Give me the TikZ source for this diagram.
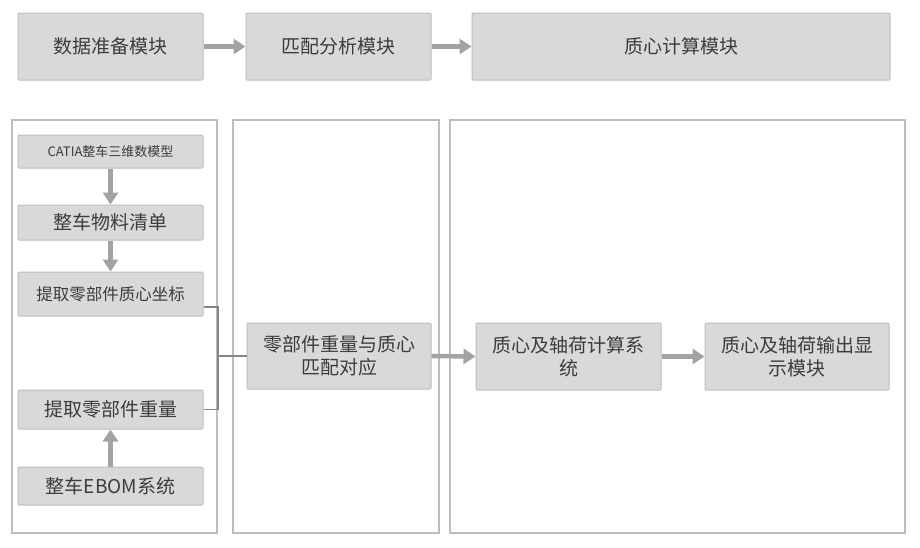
\documentclass[tikz,border=0pt]{standalone}
\usepackage{fontspec}
\setmainfont{Noto Sans CJK SC}
\usepackage{xcolor}
\usetikzlibrary{arrows.meta}
\definecolor{boxfill}{HTML}{D9D9D9}
\definecolor{boxline}{HTML}{BDBDBD}
\definecolor{arrowgray}{HTML}{A3A3A3}
\definecolor{linkgray}{HTML}{858585}
\definecolor{textgray}{HTML}{3C3C3C}

\begin{document}
\begin{tikzpicture}[x=1pt, y=-1pt,
    every node/.style={font=\fontsize{19}{23}\selectfont, text=textgray, align=center, inner sep=0pt},
    modbox/.style={fill=boxfill, draw=boxline, line width=1pt, rounded corners=1pt, minimum height=67pt},
    panel/.style={draw=boxline, line width=1.3pt},
    flow/.style={arrowgray, line width=4.5pt, -{Triangle[length=12pt,width=15pt]}},
    link/.style={linkgray, line width=1.4pt}]
        \useasboundingbox (0,0) rectangle (920,547);

        % bandeau des trois modules
        \node[modbox, minimum width=185pt] (prep) at (110.5,46.5) {数据准备模块};
        \node[modbox, minimum width=185pt] (ana) at (338.5,46.5) {匹配分析模块};
        \node[modbox, minimum width=418pt] (calcmod) at (681,46.5) {质心计算模块};
        \draw[flow] (prep.east) -- (ana.west);
        \draw[flow] (ana.east) -- (calcmod.west);

        % cadres des colonnes
        \draw[panel] (12,120) rectangle (217,533);
        \draw[panel] (233,120) rectangle (439,533);
        \draw[panel] (450,120) rectangle (905,533);

        % colonne gauche : préparation des données
        \node[modbox, minimum width=185pt, minimum height=33pt, font=\fontsize{13}{15}\selectfont] (catia) at (110.5,151.5) {CATIA整车三维数模型};
        \node[modbox, minimum width=185pt, minimum height=35pt] (bom) at (110.5,222.5) {整车物料清单};
        \node[modbox, minimum width=185pt, minimum height=44pt, font=\fontsize{16.5}{20}\selectfont] (coord) at (110.5,294) {提取零部件质心坐标};
        \node[modbox, minimum width=185pt, minimum height=39pt] (weight) at (110.5,409.5) {提取零部件重量};
        \node[modbox, minimum width=185pt, minimum height=38pt] (ebom) at (110.5,486) {整车EBOM系统};
        \draw[flow] (catia.south) -- (bom.north);
        \draw[flow] (bom.south) -- (coord.north);
        \draw[flow] (ebom.north) -- (weight.south);

        % colonnes milieu et droite
        \node[modbox, minimum width=184pt, minimum height=66pt] (match) at (339,356) {零部件重量与质心\\匹配对应};
        \node[modbox, minimum width=185pt] (sys) at (568.5,356.5) {质心及轴荷计算系\\统};
        \node[modbox, minimum width=184pt] (disp) at (797,356.5) {质心及轴荷输出显\\示模块};
        \draw[flow] (match.east) -- (sys.west);
        \draw[flow] (sys.east) -- (disp.west);

        % jonction des deux branches
        \coordinate (junc) at (218,356);
        \draw[link] ([yshift=-13pt]coord.east) -| (junc);
        \draw[link] (weight.east) -| (junc);
        \draw[link] (junc) -- (match.west);
      \end{tikzpicture}
\end{document}
